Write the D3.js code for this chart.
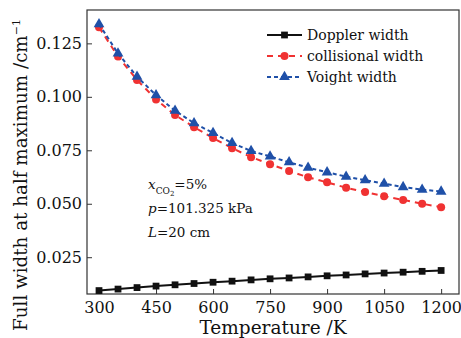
<!DOCTYPE html>
<html>
<head>
<meta charset="utf-8">
<script src="https://cdn.jsdelivr.net/npm/d3@7"></script>
<style>
  body { margin: 0; background: #fff; }
  svg text { font-family: "DejaVu Serif", "Liberation Serif", serif; fill: #111; }
</style>
</head>
<body>
<div id="chart"></div>
<script>
// temperatures in K
var temps = [300, 350, 400, 450, 500, 550, 600, 650, 700, 750, 800, 850, 900, 950, 1000, 1050, 1100, 1150, 1200]
// widths in cm^-1
var doppler = [0.0094, 0.0101, 0.0108, 0.0115, 0.0121, 0.0127, 0.0133, 0.0138, 0.0144, 0.0149, 0.0153, 0.0158, 0.0163, 0.0167, 0.0172, 0.0176, 0.0180, 0.0184, 0.0188]
var collisional = [0.1325, 0.1188, 0.1079, 0.0988, 0.0915, 0.0858, 0.0807, 0.0760, 0.0718, 0.0685, 0.0653, 0.0624, 0.0600, 0.0575, 0.0555, 0.0535, 0.0518, 0.0500, 0.0484]
var voight = [0.1340, 0.1203, 0.1094, 0.1008, 0.0935, 0.0877, 0.0831, 0.0784, 0.0747, 0.0721, 0.0694, 0.0669, 0.0647, 0.0627, 0.0610, 0.0594, 0.0578, 0.0566, 0.0557]
var xTicks = [300, 450, 600, 750, 900, 1050, 1200]
var yTicks = [0.025, 0.050, 0.075, 0.100, 0.125]

var width = 461
var height = 338
var mLeft = 87, mRight = 459, mTop = 10, mBottom = 294

var xScale = d3.scaleLinear().domain([268.4, 1247]).range([mLeft, mRight])
var yScale = d3.scaleLinear().domain([0.0078, 0.1406]).range([mBottom, mTop])

var svg = d3.select("#chart").append("svg")
    .attr("width", width)
    .attr("height", height)

// axes, ticks pointing inward
var xAxis = svg.append("g")
    .attr("transform", "translate(0," + mBottom + ")")
    .call(d3.axisBottom(xScale).tickValues(xTicks).tickFormat(d3.format("d")).tickSizeInner(-5).tickSizeOuter(0).tickPadding(8))
xAxis.select(".domain").remove()
xAxis.selectAll("text").style("font-size", "16px").attr("fill", "#111")

var yAxis = svg.append("g")
    .attr("transform", "translate(" + mLeft + ",0)")
    .call(d3.axisLeft(yScale).tickValues(yTicks).tickFormat(d3.format(".3f")).tickSizeInner(-5).tickSizeOuter(0).tickPadding(5))
yAxis.select(".domain").remove()
yAxis.selectAll("text").style("font-size", "16px").attr("fill", "#111")
svg.selectAll(".tick line").attr("stroke", "#333")

// frame
svg.append("rect")
    .attr("x", mLeft).attr("y", mTop)
    .attr("width", mRight - mLeft).attr("height", mBottom - mTop)
    .attr("fill", "none").attr("stroke", "#333").attr("stroke-width", 1.2)

var series = [
  {name: "Doppler width", vals: doppler, color: "#111", dash: null, marker: "square"},
  {name: "collisional width", vals: collisional, color: "#f03232", dash: "6,5", marker: "circle"},
  {name: "Voight width", vals: voight, color: "#1f50a8", dash: "4,3", marker: "triangle"}
]

var line = d3.line()
    .x(function(d) { return xScale(d[0]) })
    .y(function(d) { return yScale(d[1]) })

function drawMarker(g, type, color) {
  if (type == "square") {
    g.append("path").attr("d", d3.symbol(d3.symbolSquare, 46)()).attr("fill", color)
  } else if (type == "circle") {
    g.append("circle").attr("r", 4).attr("fill", color)
  } else {
    g.append("path").attr("d", d3.symbol(d3.symbolTriangle, 50)()).attr("fill", color)
  }
}

series.forEach(function(s) {
  var pts = temps.map(function(t, i) { return [t, s.vals[i]] })
  svg.append("path")
      .datum(pts)
      .attr("d", line)
      .attr("fill", "none")
      .attr("stroke", s.color)
      .attr("stroke-width", 2)
      .attr("stroke-dasharray", s.dash)
  pts.forEach(function(p) {
    var g = svg.append("g").attr("transform", "translate(" + xScale(p[0]) + "," + yScale(p[1]) + ")")
    drawMarker(g, s.marker, s.color)
  })
})

// legend
var legend = svg.append("g")
series.forEach(function(s, i) {
  var y = 35 + i * 21
  legend.append("line")
      .attr("x1", 267).attr("x2", 302).attr("y1", y).attr("y2", y)
      .attr("stroke", s.color).attr("stroke-width", 2)
      .attr("stroke-dasharray", s.dash)
  var g = legend.append("g").attr("transform", "translate(284.5," + y + ")")
  drawMarker(g, s.marker, s.color)
  legend.append("text")
      .attr("x", 307).attr("y", y + 5)
      .style("font-size", "14px")
      .text(s.name)
})

// conditions note
var note = svg.append("g").style("font-size", "13.5px")
var t1 = note.append("text").attr("x", 148).attr("y", 189)
t1.append("tspan").style("font-style", "italic").text("x")
t1.append("tspan").attr("dy", 5).style("font-size", "9px").text("CO")
t1.append("tspan").attr("dy", 2).style("font-size", "7px").text("2")
t1.append("tspan").attr("dy", -7).text("=5%")
var t2 = note.append("text").attr("x", 148).attr("y", 213)
t2.append("tspan").style("font-style", "italic").text("p")
t2.append("tspan").text("=101.325 kPa")
var t3 = note.append("text").attr("x", 148).attr("y", 237)
t3.append("tspan").style("font-style", "italic").text("L")
t3.append("tspan").text("=20 cm")

// axis titles
svg.append("text")
    .attr("x", 273).attr("y", 334)
    .attr("text-anchor", "middle")
    .style("font-size", "18.5px")
    .text("Temperature /K")

var yl = svg.append("text")
    .attr("transform", "translate(27," + 175 + ") rotate(-90)")
    .attr("text-anchor", "middle")
    .style("font-size", "18.3px")
yl.append("tspan").text("Full width at half maximum /cm")
yl.append("tspan").attr("dy", -7).style("font-size", "11px").text("−1")
</script>
</body>
</html>
